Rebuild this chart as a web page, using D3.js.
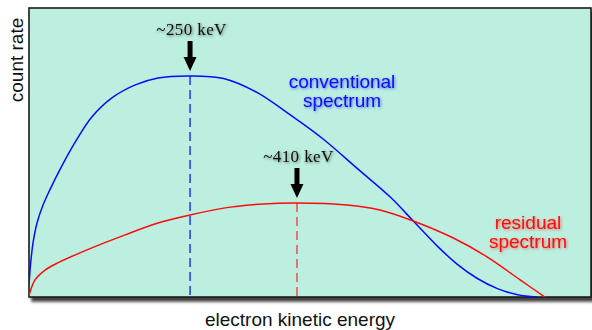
<!DOCTYPE html>
<html>
<head>
<meta charset="utf-8">
<script src="https://cdn.jsdelivr.net/npm/d3@7"></script>
<style>
  html, body { margin: 0; padding: 0; background: #fff; }
  svg { display: block; }
</style>
</head>
<body>
<svg id="chart" width="592" height="330"></svg>
<script>
// spectrum shapes (energy in keV, count rate in arbitrary units)
let convEnergy = [9.2, 11.2, 15, 21, 30, 40, 58, 81, 103, 133, 168, 202, 250, 300, 350, 400, 450, 500, 550, 584, 620, 650, 680, 710, 740, 769];
let convCounts = [5, 11.1, 18.7, 25.6, 31.8, 37.0, 45.3, 54.7, 62.3, 68.9, 73.4, 75.8, 76.5, 75.6, 70.8, 63.0, 54.5, 44.5, 34.5, 26.3, 17.6, 11.3, 6.4, 2.9, 0.8, 0];
let resEnergy = [9, 10.5, 18, 33, 52, 103, 153, 202, 250, 310, 360, 410, 485, 534, 584, 644, 695, 744, 781];
let resCounts = [0.3, 1.7, 5.9, 9.3, 11.8, 17.0, 21.5, 25.6, 28.4, 31.1, 32.2, 32.5, 31.8, 30.1, 26.3, 20.4, 13.8, 5.9, 0];

let peakEnergy = [250, 410];
let peakLabels = ["~250 keV", "~410 keV"];
let seriesNames = [["conventional", "spectrum"], ["residual", "spectrum"]];
let xTitle = "electron kinetic energy";
let yTitle = "count rate";

let svg = d3.select("#chart");
let box = {left: 29, top: 8, right: 591, bottom: 297};

let x = d3.scaleLinear().domain([0, 850]).range([23, 591]);
let y = d3.scaleLinear().domain([0, 100]).range([box.bottom, box.top]);

let colors = ["#0a0aff", "#ff0a0a"];
let dashColors = ["#1a2aff", "#ee4444"];

let defs = svg.append("defs");

// soft drop shadow under the plot box
let sh = defs.append("filter").attr("id", "boxShadow")
  .attr("x", "-5%").attr("y", "-5%").attr("width", "115%").attr("height", "120%");
sh.append("feGaussianBlur").attr("in", "SourceAlpha").attr("stdDeviation", 1.8).attr("result", "b");
sh.append("feOffset").attr("in", "b").attr("dx", 3).attr("dy", 4).attr("result", "o");
sh.append("feComponentTransfer").attr("in", "o").attr("result", "s")
  .append("feFuncA").attr("type", "linear").attr("slope", 0.75);
let shm = sh.append("feMerge");
shm.append("feMergeNode").attr("in", "s");
shm.append("feMergeNode").attr("in", "SourceGraphic");

// glow behind labels
let gl = defs.append("filter").attr("id", "glow")
  .attr("x", "-20%").attr("y", "-40%").attr("width", "140%").attr("height", "180%");
gl.append("feGaussianBlur").attr("in", "SourceGraphic").attr("stdDeviation", 1.4).attr("result", "b");
gl.append("feOffset").attr("in", "b").attr("dx", 1).attr("dy", 1).attr("result", "o");
gl.append("feComponentTransfer").attr("in", "o").attr("result", "s")
  .append("feFuncA").attr("type", "linear").attr("slope", 0.55);
let glm = gl.append("feMerge");
glm.append("feMergeNode").attr("in", "s");
glm.append("feMergeNode").attr("in", "SourceGraphic");

defs.append("clipPath").attr("id", "plotClip")
  .append("rect")
  .attr("x", box.left).attr("y", box.top)
  .attr("width", box.right - box.left).attr("height", box.bottom - box.top);

// plot background
svg.append("rect")
  .attr("x", box.left).attr("y", box.top)
  .attr("width", box.right - box.left).attr("height", box.bottom - box.top)
  .attr("fill", "#bcefdf")
  .attr("stroke", "#1c1c1c")
  .attr("stroke-width", 1.6)
  .attr("filter", "url(#boxShadow)");

let plot = svg.append("g").attr("clip-path", "url(#plotClip)");

let line = d3.line()
  .x(d => x(d[0]))
  .y(d => y(d[1]))
  .curve(d3.curveCatmullRom.alpha(0.5));

let series = [d3.zip(convEnergy, convCounts), d3.zip(resEnergy, resCounts)];

// dashed drop lines at the peaks
series.forEach(function(s, i) {
  let pk = s.find(d => d[0] === peakEnergy[i]);
  plot.append("line")
    .attr("x1", x(pk[0])).attr("x2", x(pk[0]))
    .attr("y1", y(pk[1])).attr("y2", y(0))
    .attr("stroke", dashColors[i])
    .attr("stroke-width", 1.4)
    .attr("stroke-dasharray", "9,5");
});

// curves
series.forEach(function(s, i) {
  plot.append("path")
    .datum(s)
    .attr("fill", "none")
    .attr("stroke", colors[i])
    .attr("stroke-width", 1.5)
    .attr("d", line);
});

// arrows + energy labels above each peak
series.forEach(function(s, i) {
  let pk = s.find(d => d[0] === peakEnergy[i]);
  let px = x(pk[0]), tip = y(pk[1]) - 5;
  let arrow = d3.path();
  arrow.moveTo(px - 2.5, tip - 30);
  arrow.lineTo(px + 2.5, tip - 30);
  arrow.lineTo(px + 2.5, tip - 14);
  arrow.lineTo(px + 6.5, tip - 14);
  arrow.lineTo(px, tip);
  arrow.lineTo(px - 6.5, tip - 14);
  arrow.lineTo(px - 2.5, tip - 14);
  arrow.closePath();
  svg.append("path").attr("d", arrow.toString()).attr("fill", "#000");

  svg.append("text")
    .attr("x", px + 1.5)
    .attr("y", tip - 36)
    .attr("text-anchor", "middle")
    .attr("font-family", "'Liberation Serif', 'Times New Roman', serif")
    .attr("font-size", 17)
    .attr("letter-spacing", 0.4)
    .attr("fill", "#111")
    .attr("filter", "url(#glow)")
    .text(peakLabels[i]);
});

// series labels
let nameSpots = [[342, 88], [528, 229]];
seriesNames.forEach(function(lines, i) {
  let t = svg.append("text")
    .attr("text-anchor", "middle")
    .attr("font-family", "'Liberation Sans', Arial, sans-serif")
    .attr("font-size", 19)
    .attr("fill", colors[i])
    .attr("filter", "url(#glow)");
  lines.forEach(function(l, j) {
    t.append("tspan")
      .attr("x", nameSpots[i][0])
      .attr("y", nameSpots[i][1] + j * 19)
      .text(l);
  });
});

// axis titles
svg.append("text")
  .attr("x", 300).attr("y", 326)
  .attr("text-anchor", "middle")
  .attr("font-family", "'Liberation Sans', Arial, sans-serif")
  .attr("font-size", 19)
  .attr("fill", "#111")
  .text(xTitle);

svg.append("text")
  .attr("transform", "translate(23,60) rotate(-90)")
  .attr("text-anchor", "middle")
  .attr("font-family", "'Liberation Sans', Arial, sans-serif")
  .attr("font-size", 19)
  .attr("fill", "#111")
  .text(yTitle);
</script>
</body>
</html>
